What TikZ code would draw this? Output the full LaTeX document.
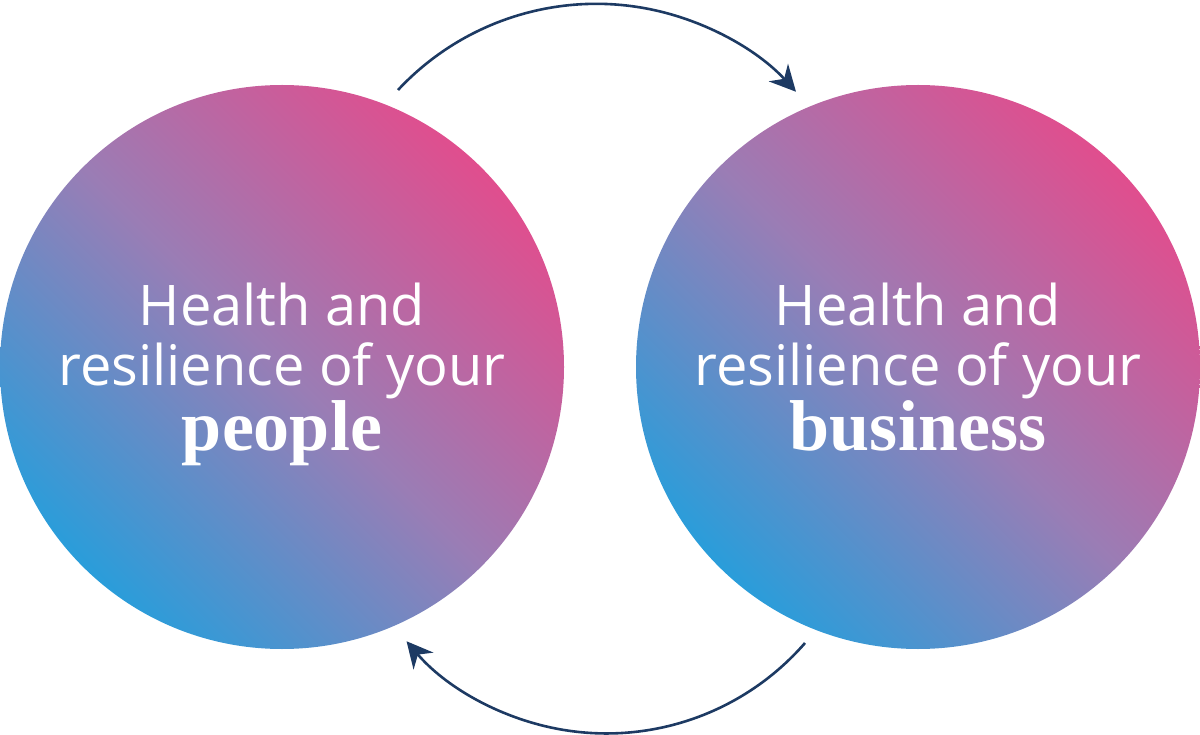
\documentclass[tikz,border=0pt]{standalone}
\usepackage{fontspec}
\setmainfont{Open Sans}
\newfontfamily\bodyserif{Liberation Serif}
\usetikzlibrary{arrows.meta}
\definecolor{cpink}{HTML}{E04E8E}
\definecolor{cmid}{HTML}{9A7DB5}
\definecolor{cblue}{HTML}{2A9DDA}
\definecolor{navy}{HTML}{1D3A63}
\tikzset{
  ball/.style={top color=cpink, bottom color=cblue, middle color=cmid, shading angle=-45},
  txt/.style={text=white, font=\fontsize{56}{60}\selectfont, anchor=base, inner sep=0},
  bold/.style={text=white, font=\bodyserif\bfseries\fontsize{72}{72}\selectfont, anchor=base, inner sep=0},
  loop/.style={draw=navy, line width=2.6pt, -{Stealth[length=26pt,width=26pt]}}
}
\begin{document}
\begin{tikzpicture}[x=1pt,y=-1pt]
\useasboundingbox (0,0) rectangle (1200,735);
\shade[ball] (282,367) circle (282);
\shade[ball] (918,367) circle (282);
\node[txt] (l1) at (282,326) {Health and};
\node[txt] (l2) at (282,385) {resilience of your};
\node[bold] (l3) at (282,450) {people};
\node[txt] (r1) at (918,326) {Health and};
\node[txt] (r2) at (918,385) {resilience of your};
\node[bold] (r3) at (918,450) {business};
\coordinate (ts) at (398,90);
\coordinate (bs) at (805,643);
\draw[loop] (ts) arc[start angle=-137, end angle=-42.5, radius=271];
\draw[loop] (bs) arc[start angle=41, end angle=139.5, radius=263];
\end{tikzpicture}
\end{document}
